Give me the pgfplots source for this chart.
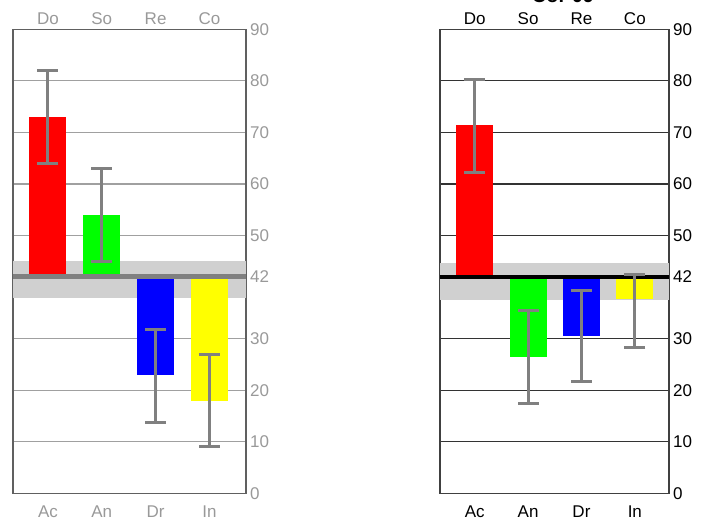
\documentclass[border=0pt]{standalone}
\usepackage{pgfplots}
\pgfplotsset{compat=1.18}
\usepackage{fontspec}
\setmainfont{Liberation Sans}
\definecolor{band}{HTML}{D0D0D0}
\definecolor{errc}{HTML}{808080}
\definecolor{lgray}{HTML}{999999}
\definecolor{lgrid}{HTML}{A0A0A0}
\definecolor{lframe}{HTML}{606060}
\definecolor{dframe}{HTML}{404040}
\definecolor{barred}{HTML}{FF0000}
\definecolor{bargreen}{HTML}{00FF00}
\definecolor{barblue}{HTML}{0000FF}
\definecolor{baryellow}{HTML}{FFFF00}
\newcommand{\lab}{\fontsize{17}{20}\selectfont}
\pgfplotsset{
  panel/.style={
    scale only axis, height=464pt, anchor=south west,
    ymin=-42, ymax=48,
    ytick={-42,-32,-22,-12,0,8,18,28,38,48},
    yticklabels={0,10,20,30,42,50,60,70,80,90},
    yticklabel pos=right,
    major tick length=0pt,
    ymajorgrids,
    xtick={0,1,2,3}, xticklabels={Ac,An,Dr,In},
    y filter/.expression={y-42},
    yticklabel style={anchor=west, inner sep=0pt, xshift=4pt},
    xticklabel style={anchor=base, inner sep=0pt, yshift=-24pt},
    ticklabel style={font=\lab},
    axis line style={line width=1.5pt},
    clip=false,
  },
  onebar/.style={ybar, bar width=37pt, bar shift=0pt, draw=none, fill=#1},
  errs/.style={only marks, mark=*, mark size=0pt, mark options={draw=none, fill=none}, forget plot,
    error bars/.cd, y dir=both, y explicit,
    error bar style={draw=errc, line width=3pt},
    error mark options={rotate=90, draw=errc, mark size=10.5pt, line width=3pt}},
}
\begin{document}
\begin{tikzpicture}[x=1pt,y=1pt]
\useasboundingbox (0,0) rectangle (703,520);
% ---------------- left panel ----------------
\begin{axis}[panel, at={(13pt,26.7pt)}, width=233pt,
  xmin=-0.65, xmax=3.68,
  axis line style={color=lframe},
  grid style={color=lgrid, line width=1.2pt},
  ticklabel style={color=lgray}]
\addplot[fill=band, draw=none] coordinates {(-0.65,37.8) (3.68,37.8) (3.68,45) (-0.65,45)} -- cycle;
\addplot[onebar=barred] coordinates {(0,73)};
\addplot[onebar=bargreen] coordinates {(1,54)};
\addplot[onebar=barblue] coordinates {(2,23)};
\addplot[onebar=baryellow] coordinates {(3,18)};
\addplot[color=errc, line width=5pt] coordinates {(-0.65,42) (3.68,42)};
\addplot[errs] coordinates {(0,73) +- (0,9) (1,54) +- (0,9) (2,22.8) +- (0,9) (3,18) +- (0,9)};
\node[anchor=base, yshift=5pt, font=\lab, text=lgray] at (axis cs:0,48) {Do};
\node[anchor=base, yshift=5pt, font=\lab, text=lgray] at (axis cs:1,48) {So};
\node[anchor=base, yshift=5pt, font=\lab, text=lgray] at (axis cs:2,48) {Re};
\node[anchor=base, yshift=5pt, font=\lab, text=lgray] at (axis cs:3,48) {Co};
\end{axis}
% ---------------- right panel ----------------
\begin{axis}[panel, at={(440pt,26.7pt)}, width=229pt,
  xmin=-0.65, xmax=3.64,
  axis line style={color=dframe},
  grid style={color=black!80, line width=1.2pt},
  ticklabel style={color=black}]
\addplot[fill=band, draw=none] coordinates {(-0.65,37.4) (3.64,37.4) (3.64,44.7) (-0.65,44.7)} -- cycle;
\addplot[onebar=barred] coordinates {(0,71.5)};
\addplot[onebar=bargreen] coordinates {(1,26.5)};
\addplot[onebar=barblue] coordinates {(2,30.5)};
\addplot[onebar=baryellow] coordinates {(3,37.6)};
\addplot[color=black, line width=4pt] coordinates {(-0.65,42) (3.64,42)};
\addplot[errs] coordinates {(0,71.3) +- (0,9) (1,26.4) +- (0,9) (2,30.5) +- (0,8.9) (3,35.4) +- (0,7.1)};
\node[anchor=base, yshift=5pt, font=\lab] at (axis cs:0,48) {Do};
\node[anchor=base, yshift=5pt, font=\lab] at (axis cs:1,48) {So};
\node[anchor=base, yshift=5pt, font=\lab] at (axis cs:2,48) {Re};
\node[anchor=base, yshift=5pt, font=\lab] at (axis cs:3,48) {Co};
\end{axis}
\node[anchor=base, font=\bfseries\fontsize{20}{24}\selectfont] at (563,517) {Cor 09};
\end{tikzpicture}
\end{document}
